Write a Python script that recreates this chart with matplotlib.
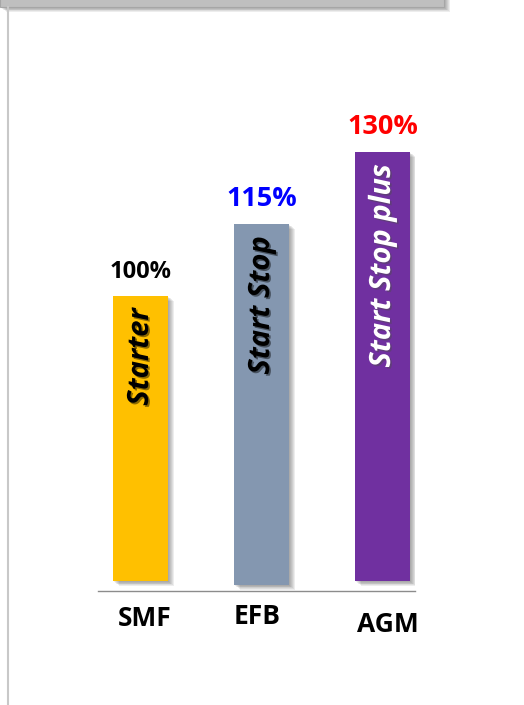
import matplotlib
matplotlib.use("Agg")
import matplotlib.pyplot as plt
import matplotlib.patheffects as pe
from matplotlib.patches import Rectangle
from matplotlib.lines import Line2D
from matplotlib.transforms import ScaledTranslation

# data
categories = ["SMF", "EFB", "AGM"]
values = [100, 115, 130]
value_labels = ["100%", "115%", "130%"]
bar_names = ["Starter", "Start Stop", "Start Stop plus"]
bar_colors = ["#FFC000", "#8497B0", "#7030A0"]
label_colors = ["#000000", "#0000FF", "#FF0000"]
name_colors = ["#000000", "#000000", "#FFFFFF"]
bar_bottoms = [40.6, 39.8, 40.6]

plt.rcParams['font.family'] = ['Open Sans', 'DejaVu Sans']

W, H = 524, 705
fig = plt.figure(figsize=(W / 100, H / 100), dpi=100)


def soft_shadow(n=6, alpha=0.09):
    # stacked offsets give a blurred looking drop shadow
    fx = [pe.SimplePatchShadow(offset=(k * 0.72, -k * 0.6), shadow_rgbFace="#404040", alpha=alpha)
          for k in range(1, n + 1)]
    return fx + [pe.Normal()]


# gray box at the top and left guide line
box = Rectangle((0, 1 - 7 / H), 444 / W, 7 / H + 0.01, transform=fig.transFigure,
                facecolor="#BFBFBF", edgecolor="#A6A6A6", linewidth=0.8,
                path_effects=soft_shadow())
fig.patches.append(box)
fig.lines.append(Line2D([7.5 / W, 7.5 / W], [0, 1 - 7 / H], transform=fig.transFigure,
                        color="#C8C8C8", linewidth=1.5))

ax = fig.add_axes([98 / W, (H - 591) / H, 317 / W, 491 / H])
x = list(range(len(categories)))
heights = [v - b for v, b in zip(values, bar_bottoms)]
bars = ax.bar(x, heights, bottom=bar_bottoms, width=0.455, color=bar_colors, zorder=2)
for b in bars:
    b.set_path_effects(soft_shadow())

ax.set_xlim(-0.351, 2.269)
ax.set_ylim(38.54, 140.8)

# the first label is a bit smaller in the original
label_sizes = [17, 19.5, 19.5]
for xi, v, lab, c, fs in zip(x, values, value_labels, label_colors, label_sizes):
    ax.annotate(lab, (xi, v), xytext=(0, 13), textcoords="offset points",
                ha="center", va="baseline", fontsize=fs, fontweight="bold", color=c)

for xi, v, name, c in zip(x, values, bar_names, name_colors):
    ax.annotate(name, (xi, v), xytext=(0, -9), textcoords="offset points",
                ha="center", va="top", rotation=90, fontsize=21,
                fontweight="bold", fontstyle="italic", color=c,
                path_effects=[pe.SimplePatchShadow(offset=(1.2, -1.2), alpha=0.45), pe.Normal()])

for s in ["top", "right", "left"]:
    ax.spines[s].set_visible(False)
ax.spines["bottom"].set_color("#8C8C8C")
ax.spines["bottom"].set_linewidth(1.0)
ax.set_yticks([])
ax.set_xticks(x)
ax.set_xticklabels(categories, fontsize=19, fontweight="bold")
ax.tick_params(axis="x", length=0, pad=10)

# small shifts of the category labels as in the original
shifts = [(4, 0), (-4, 2), (5, -6)]
for t, (dx, dy) in zip(ax.get_xticklabels(), shifts):
    t.set_transform(t.get_transform() + ScaledTranslation(dx / 100, dy / 100, fig.dpi_scale_trans))

fig.savefig("out.png", dpi=100)
